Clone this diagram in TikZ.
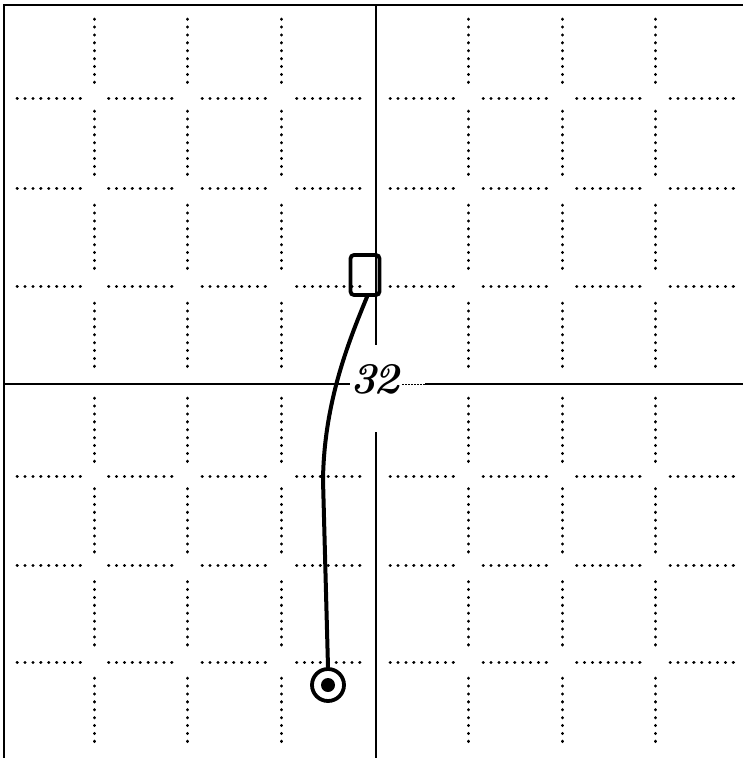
\documentclass[tikz,border=0pt]{standalone}
\begin{document}
\begin{tikzpicture}[x=1pt,y=-1pt,
  gridline/.style={line width=1.4pt,black},
  dotline/.style={line width=3pt,line cap=round,dash pattern=on 0.3pt off 7.6pt,black},
  startbox/.style={draw,line width=3.8pt,rounded corners=3.5pt,minimum width=29pt,minimum height=40pt,inner sep=0pt},
  target/.style={draw,circle,line width=3.8pt,minimum size=32pt,inner sep=0pt},
  route/.style={line width=4pt,line cap=round}]
\useasboundingbox (0,0) rectangle (743,758);
\fill[white] (0,0) rectangle (743,758);
% frame
\draw[gridline] (4,758) -- (4,5) -- (743,5);
% vertical dotted segments
\def\rowsb{4/98,98/188,188/286,286/384,384/476,476/565,565/662,662/758}
\foreach \x in {94,187,281,468,562,655}{
  \foreach \a/\b in \rowsb{
    \draw[dotline] (\x,{(\a+\b)/2-32}) -- (\x,{(\a+\b)/2+32});
  }
}
% horizontal dotted segments
\def\colsb{4/94,94/187,187/281,281/376,376/468,468/562,562/655,655/749}
\foreach \y in {98,188,286,476,565,662}{
  \foreach \a/\b in \colsb{
    \draw[dotline] ({(\a+\b)/2-32},\y) -- ({(\a+\b)/2+32},\y);
  }
}
% solid axes with gap at label
\draw[gridline] (376,5) -- (376,345);
\draw[gridline] (376,432) -- (376,758);
\draw[gridline] (4,384) -- (350,384);
\draw[line width=1pt,dash pattern=on 1.5pt off 1.5pt] (402,384) -- (425,384);
\draw[gridline] (425,384) -- (743,384);
% nodes
\node[startbox,fill=none] (sq) at (365,275) {};
\node[target] (tg) at (328,685) {};
\fill (tg.center) circle (7pt);
\node[font=\fontsize{44}{44}\selectfont\bfseries\itshape,inner sep=0pt] (lbl) at (375,379) {3\kern-4pt2};
% route
\draw[route] (sq.south) ++(2,0) coordinate (s0)
  .. controls (347,345) and (324,405) .. (323,480) -- (tg.north);
\end{tikzpicture}
\end{document}
